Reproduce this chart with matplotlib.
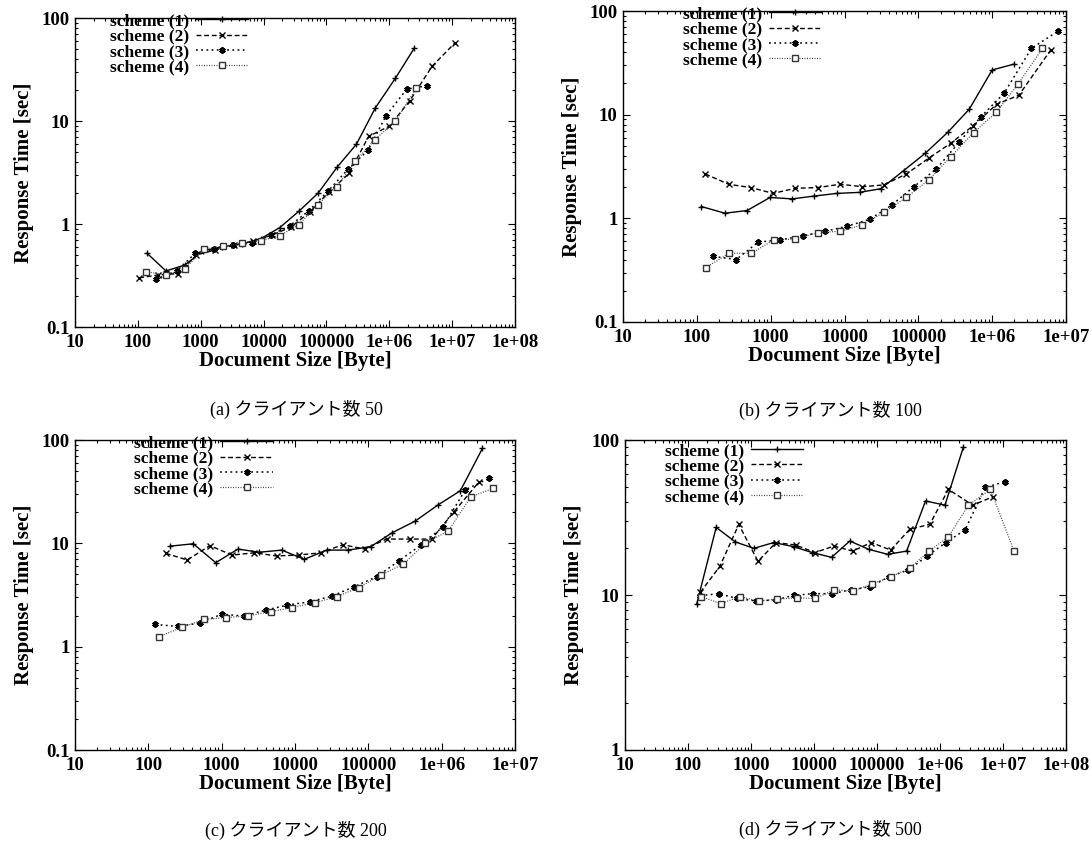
import matplotlib
matplotlib.use("Agg")
import matplotlib.pyplot as plt
from matplotlib.ticker import FixedLocator, FixedFormatter, LogLocator, NullFormatter

# ---------------- data ----------------
series_names = ["scheme (1)", "scheme (2)", "scheme (3)", "scheme (4)"]

# (a) 50 clients
a1_x = [140, 280, 560, 1100, 2200, 4500, 9000, 18000, 37000, 74000, 150000, 300000, 600000, 1.25e6, 2.5e6]
a1_y = [0.52, 0.35, 0.40, 0.55, 0.60, 0.64, 0.72, 0.92, 1.34, 2.0, 3.6, 5.95, 13.4, 26, 51]
a2_x = [105, 210, 440, 850, 1700, 3400, 6800, 13500, 27000, 54000, 110000, 230000, 470000, 1e6, 2.1e6, 4.8e6, 1.1e7]
a2_y = [0.30, 0.32, 0.33, 0.50, 0.56, 0.62, 0.68, 0.78, 0.93, 1.3, 2.05, 3.1, 7.1, 8.9, 15.6, 34, 57]
a3_x = [192, 415, 820, 1600, 3300, 6600, 13000, 26000, 53000, 107000, 220000, 460000, 890000, 1.9e6, 4e6]
a3_y = [0.29, 0.35, 0.52, 0.57, 0.62, 0.65, 0.78, 0.96, 1.35, 2.1, 3.4, 5.2, 11.3, 20.4, 22]
a4_x = [134, 276, 555, 1120, 2290, 4500, 9000, 18000, 36000, 73000, 145000, 290000, 590000, 1.25e6, 2.7e6]
a4_y = [0.345, 0.32, 0.365, 0.57, 0.61, 0.65, 0.69, 0.77, 0.98, 1.54, 2.3, 4.07, 6.6, 9.9, 21]

# (b) 100 clients
b1_x = [115, 240, 480, 980, 1950, 3900, 7900, 16000, 31000, 63000, 124000, 250000, 490000, 1e6, 2e6]
b1_y = [1.30, 1.12, 1.19, 1.59, 1.54, 1.64, 1.74, 1.78, 1.93, 2.88, 4.24, 6.75, 11.3, 27, 30.8]
b2_x = [130, 270, 540, 1080, 2150, 4350, 8700, 17500, 34000, 69000, 138000, 275000, 550000, 1.15e6, 2.3e6, 6.2e6]
b2_y = [2.68, 2.13, 1.98, 1.74, 1.95, 1.98, 2.13, 2.02, 2.1, 2.68, 3.8, 5.3, 7.8, 12.6, 15.4, 42]
b3_x = [168, 340, 680, 1350, 2750, 5500, 10900, 22000, 43500, 87000, 175000, 355000, 710000, 1.45e6, 3.4e6, 7.8e6]
b3_y = [0.43, 0.40, 0.59, 0.62, 0.68, 0.75, 0.84, 0.98, 1.34, 2.02, 2.99, 5.4, 9.6, 16.1, 43.6, 64]
b4_x = [132, 275, 550, 1100, 2150, 4350, 8700, 17000, 34000, 69000, 138000, 275000, 560000, 1.13e6, 2.25e6, 4.8e6]
b4_y = [0.335, 0.46, 0.46, 0.62, 0.63, 0.73, 0.75, 0.86, 1.14, 1.59, 2.34, 3.93, 6.7, 10.5, 19.8, 43.6]

# (c) 200 clients
c1_x = [200, 410, 830, 1670, 3250, 6600, 13400, 27000, 53000, 108000, 213000, 435000, 890000, 1.8e6, 3.6e6]
c1_y = [9.4, 9.9, 6.5, 8.8, 8.2, 8.6, 7.0, 8.6, 8.6, 9.3, 12.7, 16.4, 23.5, 32.3, 83]
c2_x = [173, 340, 690, 1380, 2800, 5600, 11200, 22400, 45000, 89000, 177000, 370000, 730000, 1.48e6, 3.2e6]
c2_y = [8.0, 6.9, 9.5, 7.7, 8.1, 7.55, 7.7, 8.1, 9.7, 8.8, 11, 11, 11, 20.3, 39]
c3_x = [125, 250, 500, 1000, 2000, 4000, 7900, 16000, 32000, 64000, 130000, 260000, 520000, 1.05e6, 2.1e6, 4.4e6]
c3_y = [1.64, 1.57, 1.69, 2.06, 1.98, 2.26, 2.53, 2.72, 3.09, 3.8, 4.75, 6.75, 9.6, 14.5, 33, 42.5]
c4_x = [140, 290, 580, 1150, 2300, 4650, 9200, 18500, 37000, 74000, 150000, 300000, 600000, 1.23e6, 2.5e6, 5e6]
c4_y = [1.25, 1.54, 1.84, 1.91, 1.99, 2.18, 2.39, 2.66, 3.05, 3.72, 4.95, 6.3, 10, 13.2, 28.2, 34]

# (d) 500 clients
d1_x = [138, 280, 565, 1110, 2300, 4750, 9300, 19000, 37000, 74000, 148000, 295000, 590000, 1.2e6, 2.35e6]
d1_y = [8.8, 27.3, 22.0, 20.0, 21.8, 20.5, 18.8, 17.5, 22.3, 19.7, 18.3, 19.2, 40.4, 38.0, 90]
d2_x = [157, 320, 640, 1290, 2500, 5100, 10400, 20800, 41000, 81000, 165000, 330000, 690000, 1.36e6, 3.3e6, 6.9e6]
d2_y = [10.4, 15.3, 28.5, 16.5, 21.8, 21.0, 18.8, 20.7, 19.2, 21.8, 19.5, 26.5, 28.6, 48, 38, 43]
d3_x = [157, 310, 600, 1200, 2450, 4800, 9600, 19500, 38000, 77000, 156000, 315000, 620000, 1.24e6, 2.5e6, 5.2e6, 1.07e7]
d3_y = [9.9, 10.2, 9.5, 9.15, 9.3, 9.95, 10.2, 10.2, 10.8, 11.3, 13.1, 14.5, 17.8, 21.8, 26.3, 49.4, 53.8]
d4_x = [163, 330, 665, 1320, 2600, 5300, 10400, 21000, 41500, 84000, 165000, 330000, 670000, 1.36e6, 2.8e6, 6.3e6, 1.5e7]
d4_y = [9.75, 8.8, 9.75, 9.15, 9.4, 9.6, 9.5, 10.8, 10.6, 11.8, 13.1, 14.9, 19.2, 23.7, 37.8, 48, 19.2]

x_ticks_7 = [10, 100, 1000, 1e4, 1e5, 1e6, 1e7, 1e8]
x_labels_7 = ["10", "100", "1000", "10000", "100000", "1e+06", "1e+07", "1e+08"]
x_ticks_6 = [10, 100, 1000, 1e4, 1e5, 1e6, 1e7]
x_labels_6 = ["10", "100", "1000", "10000", "100000", "1e+06", "1e+07"]
y_ticks_3 = [0.1, 1, 10, 100]
y_labels_3 = ["0.1", "1", "10", "100"]
y_ticks_2 = [1, 10, 100]
y_labels_2 = ["1", "10", "100"]

captions = ["(a) クライアント数 50", "(b) クライアント数 100",
            "(c) クライアント数 200", "(d) クライアント数 500"]

# ---------------- styling ----------------
W, H = 1091, 846
fig = plt.figure(figsize=(W / 100, H / 100), dpi=100)

SERIF = "Liberation Serif"
styles = [
    dict(color="black", lw=1.0, ls="-", marker="+", ms=5, mew=1.0),
    dict(color="black", lw=1.0, ls=(0, (3.5, 2.0)), marker="x", ms=4.5, mew=1.0),
    dict(color="black", lw=1.1, ls=(0, (1.2, 2.2)), marker=(6, 2, 0), ms=4.5, mew=1.5),
    dict(color="#444444", lw=0.9, ls=(0, (0.8, 1.2)), marker="s", ms=5, mew=1.0, mfc="white", mec="#333333"),
]

def ax_rect(l, r, t, b):
    return [l / W, 1 - b / H, (r - l) / W, (b - t) / H]

panels = [
    dict(rect=ax_rect(75, 515, 18, 327), data=[(a1_x, a1_y), (a2_x, a2_y), (a3_x, a3_y), (a4_x, a4_y)],
         xlim=(10, 1e8), xt=x_ticks_7, xl=x_labels_7, ylim=(0.1, 100), yt=y_ticks_3, yl=y_labels_3,
         leg=(0.08, 1.015), cap=(296, 409)),
    dict(rect=ax_rect(623, 1066, 11, 322), data=[(b1_x, b1_y), (b2_x, b2_y), (b3_x, b3_y), (b4_x, b4_y)],
         xlim=(10, 1e7), xt=x_ticks_6, xl=x_labels_6, ylim=(0.1, 100), yt=y_ticks_3, yl=y_labels_3,
         leg=(0.135, 1.015), cap=(830, 410)),
    dict(rect=ax_rect(75, 515, 440, 750), data=[(c1_x, c1_y), (c2_x, c2_y), (c3_x, c3_y), (c4_x, c4_y)],
         xlim=(10, 1e7), xt=x_ticks_6, xl=x_labels_6, ylim=(0.1, 100), yt=y_ticks_3, yl=y_labels_3,
         leg=(0.135, 1.015), cap=(296, 830)),
    dict(rect=ax_rect(625, 1066, 440, 750), data=[(d1_x, d1_y), (d2_x, d2_y), (d3_x, d3_y), (d4_x, d4_y)],
         xlim=(10, 1e8), xt=x_ticks_7, xl=x_labels_7, ylim=(1, 100), yt=y_ticks_2, yl=y_labels_2,
         leg=(0.09, 0.99), cap=(830, 829)),
]

for p, cap in zip(panels, captions):
    ax = fig.add_axes(p["rect"])
    handles = []
    for (xs, ys), st, name in zip(p["data"], styles, series_names):
        h, = ax.plot(xs, ys, label=name, **st)
        handles.append(h)
    ax.set_xscale("log")
    ax.set_yscale("log")
    ax.set_xlim(*p["xlim"])
    ax.set_ylim(*p["ylim"])
    ax.xaxis.set_major_locator(FixedLocator(p["xt"]))
    ax.xaxis.set_major_formatter(FixedFormatter(p["xl"]))
    ax.yaxis.set_major_locator(FixedLocator(p["yt"]))
    ax.yaxis.set_major_formatter(FixedFormatter(p["yl"]))
    ax.xaxis.set_minor_locator(LogLocator(base=10, subs=range(2, 10), numticks=20))
    ax.yaxis.set_minor_locator(LogLocator(base=10, subs=range(2, 10), numticks=20))
    ax.xaxis.set_minor_formatter(NullFormatter())
    ax.yaxis.set_minor_formatter(NullFormatter())
    ax.tick_params(which="both", direction="in", top=True, right=True, width=0.8)
    ax.tick_params(which="major", length=5)
    ax.tick_params(axis="x", which="major", pad=5)
    ax.tick_params(axis="y", which="major", pad=4)
    ax.tick_params(which="minor", length=2.5)
    for lab in ax.get_xticklabels() + ax.get_yticklabels():
        lab.set_fontfamily(SERIF)
        lab.set_fontweight("bold")
        lab.set_fontsize(13.5)
    for s in ax.spines.values():
        s.set_linewidth(1.0)
    ax.set_xlabel("Document Size [Byte]", fontfamily=SERIF, fontweight="bold", fontsize=15, labelpad=0)
    ax.set_ylabel("Response Time [sec]", fontfamily=SERIF, fontweight="bold", fontsize=15, labelpad=5)
    ax.legend(handles=handles, loc="upper left", bbox_to_anchor=p["leg"], frameon=False,
              markerfirst=False, handlelength=3.0, handletextpad=0.4, labelspacing=-0.05,
              borderpad=0, borderaxespad=0, numpoints=1,
              prop=dict(family=SERIF, weight="bold", size=12.5))
    fig.text(p["cap"][0] / W, 1 - p["cap"][1] / H, cap, ha="center", va="center",
             fontsize=13, family=[SERIF, "Noto Sans CJK JP"])

fig.savefig("out.png", dpi=100)
